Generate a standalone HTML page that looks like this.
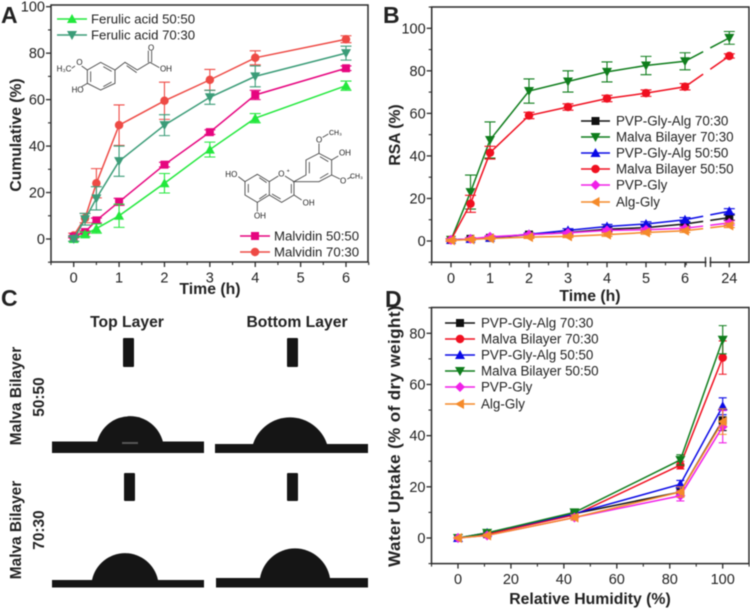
<!DOCTYPE html>
<html lang="en">
<head>
<meta charset="utf-8">
<title>Malva bilayer characterisation figure</title>
<style>
html,body{margin:0;padding:0;background:#fff;}
#figure{display:block;width:750px;height:609px;font-family:"Liberation Sans",sans-serif;filter:blur(0.45px);}
text{font-family:"Liberation Sans",sans-serif;fill:#222;}
</style>
</head>
<body>
<svg id="figure" xmlns="http://www.w3.org/2000/svg" width="750" height="609" viewBox="0 0 750 609">
  <rect x="0" y="0" width="750" height="609" fill="#fff"/>

  <g font-weight="bold" font-size="23">
    <text x="1" y="23" font-weight="bold">A</text>
    <text x="383" y="23" font-weight="bold">B</text>
    <text x="1" y="306" font-weight="bold">C</text>
    <text x="385" y="307" font-weight="bold">D</text>
  </g>

  <g id="ferulic-structure" transform="scale(0.3333)" fill="none" stroke="#444" stroke-width="2.6">
    <path d="M302 187L345 210L345 250L302 270L262 250L262 210Z M310 200L335 214 M335 246L310 260 M272 246L272 214"/>
    <path d="M262 250L245 260 M262 210L245 198 M225 198L215 205 M345 210L375 187L412 210L450 187L478 203 M380 197L410 218 M445 187L445 152 M455 187L455 152"/>
    <g stroke="none" font-size="24">
      <text x="215" y="277">HO</text>
      <text x="229" y="195">O</text>
      <text x="170" y="214">H₃C</text>
      <text x="444" y="151">O</text>
      <text x="480" y="215">OH</text>
    </g>
  </g>
  <g id="malvidin-structure" transform="scale(0.3333)" fill="none" stroke="#444" stroke-width="2.6">
    <path d="M735 545L772 523L808 545L808 585L772 607L735 585Z M745 578L745 552 M778 533L800 548 M800 582L778 597"/>
    <path d="M808 545L835 528 M855 528L882 545L882 585L845 607L808 585 M874 552L874 580 M842 597L816 582"/>
    <path d="M882 545L918 525L918 480L957 460L995 480L995 525L957 545Z M928 520L928 486 M960 470L985 485 M985 520L960 535"/>
    <path d="M957 460L957 430 M968 412L985 402 M995 480L1015 468 M995 525L1020 537 M1042 537L1052 532 M735 545L715 530 M882 585L905 600 M772 607L772 635"/>
    <g stroke="none" font-size="24">
      <text x="948" y="427">O</text>
      <text x="987" y="405" font-size="21">CH₃</text>
      <text x="1017" y="467">OH</text>
      <text x="1020" y="551">O</text>
      <text x="1050" y="535" font-size="21">CH₃</text>
      <text x="676" y="531">HO</text>
      <text x="835" y="530">O</text>
      <text x="860" y="518" font-size="16">+</text>
      <text x="908" y="616">OH</text>
      <text x="762" y="656">OH</text>
    </g>
  </g>

  <g id="panel-c">
    <text x="127" y="327" text-anchor="middle" font-size="15.7" font-weight="bold">Top Layer</text>
    <text x="297" y="327" text-anchor="middle" font-size="15.7" font-weight="bold">Bottom Layer</text>
    <text transform="translate(21,396) rotate(-90)" text-anchor="middle" font-size="15.4" font-weight="bold">Malva Bilayer</text>
    <text transform="translate(44,397) rotate(-90)" text-anchor="middle" font-size="15.4" font-weight="bold">50:50</text>
    <text transform="translate(21,530) rotate(-90)" text-anchor="middle" font-size="15.4" font-weight="bold">Malva Bilayer</text>
    <text transform="translate(44,530) rotate(-90)" text-anchor="middle" font-size="15.4" font-weight="bold">70:30</text>
    <g fill="#151515">
      <g>
        <rect x="123" y="338" width="11" height="29" rx="1"/>
        <rect x="52" y="441.5" width="152" height="11.5"/>
        <path d="M97 442A34 34 0 0 1 163 442Z"/>
        <rect x="122" y="442" width="16" height="2" fill="#555"/>
      </g>
      <g>
        <rect x="287" y="338" width="11" height="29" rx="1"/>
        <rect x="215" y="444" width="153" height="9"/>
        <path d="M253 444A39 39 0 0 1 327 444Z"/>
      </g>
      <g>
        <rect x="124" y="473" width="11" height="28" rx="1"/>
        <rect x="52" y="580" width="152" height="7.5"/>
        <path d="M92 580A33.7 33.7 0 0 1 158 580Z"/>
      </g>
      <g>
        <rect x="287" y="473" width="11" height="28" rx="1"/>
        <rect x="216" y="578" width="152" height="9.5"/>
        <path d="M260 578A35.5 35.5 0 0 1 330 578Z"/>
      </g>
    </g>
  </g>

  <g id="panel-a"></g>
  <g id="panel-b"></g>
  <g id="panel-d"></g>
</svg>

<script>
// ---------- Panel A data ----------
const timesA = [0, 0.25, 0.5, 1, 2, 3, 4, 6];
const malvidin7030 = [1.5, 9, 24, 49, 59.5, 68.5, 78, 86];
const malvidin7030Err = [1, 2, 6.3, 8.7, 8, 4.5, 3, 1.5];
const malvidin5050 = [1, 3, 8, 16, 32, 46, 62, 73.5];
const malvidin5050Err = [0.5, 0.5, 1, 1.5, 1, 1, 2, 1];
const ferulic5050 = [0, 2, 4.5, 10, 24, 38.5, 52, 66];
const ferulic5050Err = [1, 1, 2, 5, 4.2, 3.2, 2, 2];
const ferulic7030 = [0, 8.5, 17.5, 33.5, 49, 61, 70, 80];
const ferulic7030Err = [1, 2.5, 5, 6.5, 4.5, 3, 4.5, 3];
const xTicksA = [0, 1, 2, 3, 4, 5, 6];
const yTicksA = [0, 20, 40, 60, 80, 100];

// ---------- Panel B data ----------
const timesB = [0, 0.5, 1, 2, 3, 4, 5, 6, 24];
const rsaMalva7030 = [0.5, 23, 47.5, 70.5, 75, 79.5, 82.5, 84.5, 95.5];
const rsaMalva7030Err = [0.5, 8, 8.5, 5.7, 5, 4.7, 4.3, 4, 3];
const rsaMalva5050 = [0.5, 17.5, 41.5, 59, 63, 67, 69.5, 72.5, 87];
const rsaMalva5050Err = [0.5, 4, 3, 1.5, 1.5, 1.5, 1.5, 1.5, 1];
const rsaPga7030 = [0.5, 1, 1.5, 3, 4, 5.5, 6.3, 8, 11];
const rsaPga7030Err = [0.5, 0.5, 0.5, 0.6, 0.8, 1, 1, 1, 1.2];
const rsaPga5050 = [0.5, 1, 1.5, 3.2, 5, 6.8, 8, 10, 14];
const rsaPga5050Err = [0.5, 0.5, 0.5, 0.6, 0.8, 1, 1, 1, 1.2];
const rsaPvpGly = [0.5, 1, 2, 3, 3.8, 5, 5.3, 6, 8.5];
const rsaPvpGlyErr = [0.5, 0.5, 0.5, 0.6, 0.6, 0.8, 0.8, 0.8, 1];
const rsaAlgGly = [0.3, 0.7, 1.2, 1.8, 2.2, 3, 4, 4.8, 7.3];
const rsaAlgGlyErr = [0.5, 0.5, 0.5, 0.6, 0.6, 0.8, 0.8, 0.8, 1];
const xTicksB = [0, 1, 2, 3, 4, 5, 6, 24];
const yTicksB = [0, 20, 40, 60, 80, 100];

// ---------- Panel D data ----------
const humidity = [0, 11, 44, 84, 100];
const wuPga7030 = [0, 1.5, 9.5, 18, 46];
const wuPga7030Err = [0.3, 0.5, 1, 2, 4];
const wuMalva7030 = [0, 1.5, 9, 28.5, 70.5];
const wuMalva7030Err = [0.3, 0.5, 1, 1.5, 6.5];
const wuPga5050 = [0, 2, 9.5, 21, 51.5];
const wuPga5050Err = [0.3, 0.5, 1, 1.5, 3.3];
const wuMalva5050 = [0, 2, 10, 30.5, 77.5];
const wuMalva5050Err = [0.3, 0.5, 1, 2, 5.5];
const wuPvpGly = [0, 1, 8, 16.5, 43.5];
const wuPvpGlyErr = [0.3, 0.5, 1, 2, 6.3];
const wuAlgGly = [0, 1, 8, 18, 45.5];
const wuAlgGlyErr = [0.3, 0.5, 1, 2, 5];
const xTicksD = [0, 20, 40, 60, 80, 100];
const yTicksD = [0, 20, 40, 60, 80];

// ---------- helpers ----------
const SVGNS = 'http://www.w3.org/2000/svg';
const FRAME = '#2a2a2a';
const MARK = 5;
function mk(parent, tag, attrs, txt) {
  const el = document.createElementNS(SVGNS, tag);
  for (const k in attrs) el.setAttribute(k, attrs[k]);
  if (txt !== undefined) el.textContent = txt;
  parent.appendChild(el);
  return el;
}
function linear(d0, d1, r0, r1) {
  return v => r0 + (v - d0) * (r1 - r0) / (d1 - d0);
}
function markerPath(kind, x, y, s) {
  if (kind === 'square') return `M${x-s*0.8} ${y-s*0.8}h${s*1.6}v${s*1.6}h${-s*1.6}Z`;
  if (kind === 'up') return `M${x} ${y-s}L${x+s} ${y+s*0.8}L${x-s} ${y+s*0.8}Z`;
  if (kind === 'down') return `M${x} ${y+s}L${x+s} ${y-s*0.8}L${x-s} ${y-s*0.8}Z`;
  if (kind === 'diamond') return `M${x} ${y-s}L${x+s} ${y}L${x} ${y+s}L${x-s} ${y}Z`;
  if (kind === 'left') return `M${x-s} ${y}L${x+s*0.8} ${y-s}L${x+s*0.8} ${y+s}Z`;
  const r = s * 0.85;
  return `M${x-r} ${y}A${r} ${r} 0 1 0 ${x+r} ${y}A${r} ${r} 0 1 0 ${x-r} ${y}Z`;
}
function drawSeries(g, s, xs, X, Y, capHalf, gap) {
  const path = [];
  xs.forEach((t, i) => {
    const px = X(t), py = Y(s.values[i]);
    if (i === 0) { path.push(`M${px} ${py}`); return; }
    if (gap && i === xs.length - 1) {
      const qx = X(xs[i-1]), qy = Y(s.values[i-1]);
      const ax = qx + (px-qx)*gap[0], ay = qy + (py-qy)*gap[0];
      const bx = qx + (px-qx)*gap[1], by = qy + (py-qy)*gap[1];
      path.push(`L${ax} ${ay}M${bx} ${by}L${px} ${py}`);
    } else {
      path.push(`L${px} ${py}`);
    }
  });
  const line = mk(g, 'path', {d: path.join(''), fill: 'none', stroke: s.color, 'stroke-width': 1.5});
  
  
  xs.forEach((t, i) => {
    const px = X(t), hi = Y(s.values[i] + s.errors[i]), lo = Y(s.values[i] - s.errors[i]);
    const eb = mk(g, 'path', {
      d: `M${px} ${hi}V${lo}M${px-capHalf} ${hi}h${capHalf*2}M${px-capHalf} ${lo}h${capHalf*2}`,
      fill: 'none', stroke: s.color, 'stroke-width': 1.1
    });
    
    
  });
  xs.forEach((t, i) => {
    const pt = mk(g, 'path', {d: markerPath(s.marker, X(t), Y(s.values[i]), MARK), fill: s.fill || s.color});
    
    
  });
}
function drawFrame(g, box) {
  const r = mk(g, 'rect', {x: box.l, y: box.t, width: box.r-box.l, height: box.b-box.t, fill: 'none', stroke: FRAME, 'stroke-width': 1.5});
  
  
}
function drawAxes(g, box, X, Y, xMajor, xMinor, yMajor, yMinor) {
  xMinor.forEach(t => {
    const m = mk(g, 'line', {x1: X(t), x2: X(t), y1: box.b, y2: box.b+3, stroke: FRAME, 'stroke-width': 1.1});
    
    
  });
  xMajor.forEach(t => {
    const m = mk(g, 'line', {x1: X(t), x2: X(t), y1: box.b, y2: box.b+5, stroke: FRAME, 'stroke-width': 1.3});
    
    
    const lb = mk(g, 'text', {x: X(t), y: box.b+20.5, 'text-anchor': 'middle', 'font-size': 14.5}, String(t));
    
    
  });
  yMinor.forEach(v => {
    const m = mk(g, 'line', {x1: box.l-3, x2: box.l, y1: Y(v), y2: Y(v), stroke: FRAME, 'stroke-width': 1.1});
    
    
  });
  yMajor.forEach(v => {
    const m = mk(g, 'line', {x1: box.l-5, x2: box.l, y1: Y(v), y2: Y(v), stroke: FRAME, 'stroke-width': 1.3});
    
    
    const lb = mk(g, 'text', {x: box.l-6, y: Y(v)+5, 'text-anchor': 'end', 'font-size': 14.5}, String(v));
    
    
  });
}
function drawTitles(g, xTxt, xCx, xBase, yTxt, yCx, yCy, ySize, ySpacing) {
  const xt = mk(g, 'text', {x: xCx, y: xBase, 'text-anchor': 'middle', 'font-size': 15.8, 'font-weight': 'bold'}, xTxt);
  
  
  const yt = mk(g, 'text', {transform: `translate(${yCx},${yCy}) rotate(-90)`, 'text-anchor': 'middle', 'font-size': ySize, 'letter-spacing': ySpacing, 'font-weight': 'bold'}, yTxt);
  
  
}
function drawLegendEntry(g, s, x0, x1, tx, y, size) {
  const e = mk(g, 'g', {});
  
  
  mk(e, 'line', {x1: x0, x2: x1, y1: y, y2: y, stroke: s.color, 'stroke-width': 1.5});
  mk(e, 'path', {d: markerPath(s.marker, (x0+x1)/2, y, MARK), fill: s.fill || s.color});
  mk(e, 'text', {x: tx, y: y+4.7, 'font-size': size}, s.label);
}

// ---------- Panel A ----------
(function () {
  const g = document.getElementById('panel-a');
  const box = {l: 51, r: 368, t: 5, b: 262};
  const X = linear(0, 6, 73.7, 346);
  const Y = linear(0, 100, 239, 6.7);
  const mal70 = {key: 'malvidin-70-30', label: 'Malvidin 70:30', values: malvidin7030, errors: malvidin7030Err, color: '#ee4a45', marker: 'circle'};
  const mal50 = {key: 'malvidin-50-50', label: 'Malvidin 50:50', values: malvidin5050, errors: malvidin5050Err, color: '#e6057f', marker: 'square'};
  const fa50 = {key: 'ferulic-acid-50-50', label: 'Ferulic acid 50:50', values: ferulic5050, errors: ferulic5050Err, color: '#22e83c', marker: 'up'};
  const fa70 = {key: 'ferulic-acid-70-30', label: 'Ferulic acid 70:30', values: ferulic7030, errors: ferulic7030Err, color: '#3b9c78', marker: 'down'};
  drawAxes(g, box, X, Y, xTicksA, [-0.5,0.5,1.5,2.5,3.5,4.5,5.5,6.5], yTicksA, [-10,10,30,50,70,90]);
  [mal70, mal50, fa50, fa70].forEach(s => drawSeries(g, s, timesA, X, Y, 5.5, null));
  drawFrame(g, box);
  drawTitles(g, 'Time (h)', 210, 294, 'Cumulative (%)', 21, 135, 15.7, 0);
  drawLegendEntry(g, fa50, 57, 87, 91, 19, 13.2);
  drawLegendEntry(g, fa70, 57, 87, 91, 35, 13.2);
  drawLegendEntry(g, mal50, 240, 270, 274, 236, 13.2);
  drawLegendEntry(g, mal70, 240, 270, 274, 252, 13.2);
})();

// ---------- Panel B ----------
(function () {
  const g = document.getElementById('panel-b');
  const box = {l: 431.7, r: 749, t: 7, b: 262.3};
  const X0 = linear(0, 6, 451, 685);
  const X1 = linear(6, 24, 685, 729.3);
  const X = t => t <= 6 ? X0(t) : X1(t);
  const Y = linear(0, 100, 241, 28.3);
  const series = [
    {key: 'pvp-gly-alg-70-30', label: 'PVP-Gly-Alg 70:30', values: rsaPga7030, errors: rsaPga7030Err, color: '#111', marker: 'square'},
    {key: 'malva-bilayer-70-30', label: 'Malva Bilayer 70:30', values: rsaMalva7030, errors: rsaMalva7030Err, color: '#0f7d1c', marker: 'down'},
    {key: 'pvp-gly-alg-50-50', label: 'PVP-Gly-Alg 50:50', values: rsaPga5050, errors: rsaPga5050Err, color: '#0a0ae6', marker: 'up'},
    {key: 'malva-bilayer-50-50', label: 'Malva Bilayer 50:50', values: rsaMalva5050, errors: rsaMalva5050Err, color: '#f01020', marker: 'circle'},
    {key: 'pvp-gly', label: 'PVP-Gly', values: rsaPvpGly, errors: rsaPvpGlyErr, color: '#f020e8', marker: 'diamond'},
    {key: 'alg-gly', label: 'Alg-Gly', values: rsaAlgGly, errors: rsaAlgGlyErr, color: '#f58a2a', marker: 'left'}
  ];
  drawAxes(g, box, X, Y, xTicksB, [-0.5,0.5,1.5,2.5,3.5,4.5,5.5,6.5], yTicksB, [-10,10,30,50,70,90,110]);
  series.forEach(s => drawSeries(g, s, timesB, X, Y, 5.5, [0.41, 0.57]));
  drawFrame(g, box);
  const cut = mk(g, 'rect', {x: 706.5, y: 259, width: 3, height: 6, fill: '#fff'});
  
  
  const brk = mk(g, 'path', {d: 'M705.5 257V267M710.5 257V267', stroke: FRAME, 'stroke-width': 1.3, fill: 'none'});
  
  
  drawTitles(g, 'Time (h)', 590, 301, 'RSA (%)', 400, 135, 15.7, 0);
  [121, 137, 153, 169, 185, 202].forEach((y, i) => drawLegendEntry(g, series[i], 581, 610, 616, y, 13.4));
})();

// ---------- Panel D ----------
(function () {
  const g = document.getElementById('panel-d');
  const box = {l: 431.5, r: 749, t: 307.5, b: 563.6};
  const X = linear(0, 100, 458, 722.7);
  const Y = linear(0, 80, 538, 333.3);
  const series = [
    {key: 'pvp-gly-alg-70-30', label: 'PVP-Gly-Alg 70:30', values: wuPga7030, errors: wuPga7030Err, color: '#111', marker: 'square'},
    {key: 'malva-bilayer-70-30', label: 'Malva Bilayer 70:30', values: wuMalva7030, errors: wuMalva7030Err, color: '#f01020', marker: 'circle'},
    {key: 'pvp-gly-alg-50-50', label: 'PVP-Gly-Alg 50:50', values: wuPga5050, errors: wuPga5050Err, color: '#0a0ae6', marker: 'up'},
    {key: 'malva-bilayer-50-50', label: 'Malva Bilayer 50:50', values: wuMalva5050, errors: wuMalva5050Err, color: '#0f7d1c', marker: 'down'},
    {key: 'pvp-gly', label: 'PVP-Gly', values: wuPvpGly, errors: wuPvpGlyErr, color: '#f020e8', marker: 'diamond'},
    {key: 'alg-gly', label: 'Alg-Gly', values: wuAlgGly, errors: wuAlgGlyErr, color: '#f58a2a', marker: 'left'}
  ];
  drawAxes(g, box, X, Y, xTicksD, [-10,10,30,50,70,90,110], yTicksD, [-10,10,30,50,70,90]);
  series.forEach(s => drawSeries(g, s, humidity, X, Y, 4, null));
  drawFrame(g, box);
  drawTitles(g, 'Relative Humidity (%)', 590, 604, 'Water Uptake (% of dry weight)', 400, 436, 17, 0.4);
  [323, 339, 355, 371, 387, 404].forEach((y, i) => drawLegendEntry(g, series[i], 445, 475, 481, y, 13.4));
})();
</script>
</body>
</html>
